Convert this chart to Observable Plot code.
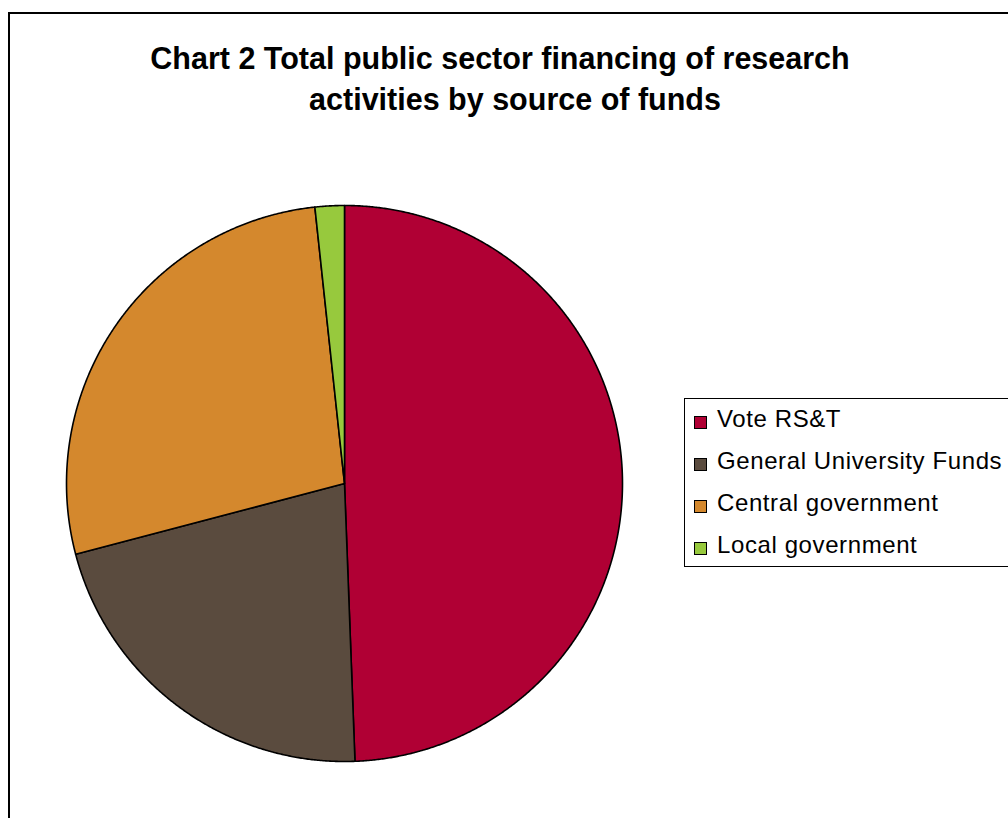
<!DOCTYPE html>
<html><head><meta charset="utf-8">
<script src="https://cdn.jsdelivr.net/npm/d3@7"></script>
<script src="https://cdn.jsdelivr.net/npm/@observablehq/plot@0.6"></script>
<style>
html,body{margin:0;padding:0;overflow:hidden;background:#fff;}
#wrap{position:relative;width:1008px;height:818px;overflow:hidden;font-family:"Liberation Sans",Arial,sans-serif;}
#frame{position:absolute;left:8px;top:12px;width:1100px;height:900px;border:2px solid #000;box-sizing:border-box;}
.t{position:absolute;font-weight:bold;font-size:30.5px;line-height:30.5px;white-space:nowrap;transform:translateX(-50%);color:#000;}
#legend{position:absolute;left:684px;top:398px;width:400px;height:169px;border:1px solid #000;box-sizing:border-box;background:#fff;}
.li{position:absolute;left:9px;font-size:24px;line-height:24px;letter-spacing:0.6px;white-space:nowrap;color:#000;}
.sw{display:inline-block;width:11px;height:11px;border:1px solid #000;margin-right:10px;vertical-align:-2px;}
#chart{position:absolute;left:0;top:0;}
</style></head>
<body><div id="wrap"><div id="frame"></div><div id="chart"></div>
<div class="t" style="left:500px;top:43px">Chart 2 Total public sector financing of research</div>
<div class="t" style="left:515px;top:84px">activities by source of funds</div>
<div id="legend"></div></div>
<script>
const categories = ["Vote RS&T", "General University Funds", "Central government", "Local government"];
const shares = [49.4, 21.5, 27.4, 1.7];
const colors = ["#B00034", "#5A4B3E", "#D4882D", "#97C93D"];

const pie = d3.pie().sort(null).value(d => d.v)(categories.map((c, i) => ({c, v: shares[i], col: colors[i]})));
const marks = pie.map(p => {
  const pts = [[0, 0]];
  const n = Math.max(2, Math.ceil((p.endAngle - p.startAngle) / 0.005));
  for (let k = 0; k <= n; k++) {
    const a = p.startAngle + (p.endAngle - p.startAngle) * k / n;
    pts.push([Math.sin(a), Math.cos(a)]);
  }
  pts.push([0, 0]);
  return Plot.line(pts, {x: d => d[0], y: d => d[1], fill: p.data.col, stroke: "#000", strokeWidth: 1.6, strokeLinejoin: "round"});
});

const plot = Plot.plot({
  width: 1008, height: 818,
  marginTop: 0, marginRight: 0, marginBottom: 0, marginLeft: 0,
  x: {domain: [-1, 1], range: [66, 622], axis: null},
  y: {domain: [-1, 1], range: [761, 205], axis: null},
  style: {background: "transparent", overflow: "visible"},
  marks
});
document.getElementById("chart").appendChild(plot);

const lg = document.getElementById("legend");
categories.forEach((c, i) => {
  const d = document.createElement("div");
  d.className = "li";
  d.style.top = (8 + i * 42) + "px";
  d.innerHTML = `<span class="sw" style="background:${colors[i]}"></span>`;
  d.appendChild(document.createTextNode(c));
  lg.appendChild(d);
});
</script></body></html>
